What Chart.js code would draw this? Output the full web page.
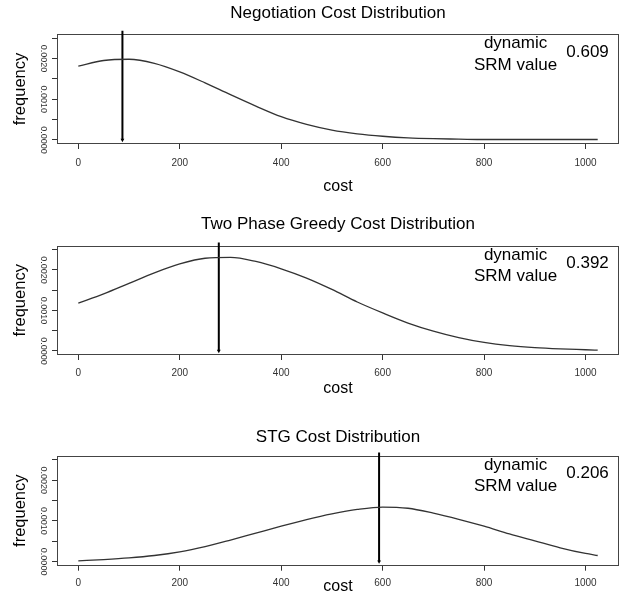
<!DOCTYPE html>
<html>
<head>
<meta charset="utf-8">
<script src="https://cdn.jsdelivr.net/npm/chart.js@4.4.1/dist/chart.umd.min.js"></script>
<style>
  html, body { margin: 0; padding: 0; background: #fff; }
  #wrap { position: relative; width: 623px; height: 598px; overflow: hidden; }
  .panel { position: absolute; left: 0; }
</style>
</head>
<body>
<div id="wrap">
  <canvas class="panel" id="panel0" width="623" height="200" style="top:0px"></canvas>
  <canvas class="panel" id="panel1" width="623" height="200" style="top:200px"></canvas>
  <canvas class="panel" id="panel2" width="623" height="198" style="top:400px"></canvas>
</div>
<script>
// ---- data ----
const costs = [0, 50, 100, 150, 200, 250, 300, 350, 400, 450, 500, 550, 600, 650, 700, 750, 800, 850, 900, 950, 1000, 1024];

const negotiationFreq = [0.00181, 0.00195, 0.00198, 0.00188, 0.00167, 0.00140, 0.00111, 0.00083, 0.00057, 0.00038, 0.00024, 0.00015, 0.00009, 0.00005, 0.00003, 0.00002, 0.00001, 0.00001, 0.00001, 0.00001, 0.00001, 0.00001];
const twoPhaseFreq = [0.00118, 0.00141, 0.00167, 0.00193, 0.00215, 0.00229, 0.00231, 0.00221, 0.00203, 0.00180, 0.00152, 0.00121, 0.00094, 0.00069, 0.00049, 0.00033, 0.00021, 0.00013, 0.00008, 0.00005, 0.00003, 0.00002];
const stgFreq = [0.00002, 0.00005, 0.00009, 0.00015, 0.00024, 0.00037, 0.00053, 0.00070, 0.00087, 0.00103, 0.00117, 0.00128, 0.00134, 0.00131, 0.00119, 0.00104, 0.00087, 0.00068, 0.00051, 0.00034, 0.00020, 0.00015];

const chartTitles = ['Negotiation Cost Distribution', 'Two Phase Greedy Cost Distribution', 'STG Cost Distribution'];
const srmValues = ['0.609', '0.392', '0.206'];
const srmCost = [87, 277, 593];   // where the arrow sits
const noteLines = ['dynamic', 'SRM value'];
const xTickValues = [0, 200, 400, 600, 800, 1000];
const yTickLabelled = [0, 0.001, 0.002];

const seriesList = [negotiationFreq, twoPhaseFreq, stgFreq];

// ---- layout per panel (pixels inside each canvas) ----
const titlePad = [{ top: 2.8, bottom: 10.8 }, { top: 13.8, bottom: 11.5 }, { top: 26.8, bottom: 8.5 }];
const xAxisHeight = [56, 45, 32.3];
const xTitlePadBottom = [3.4, 1.4, 1.4];
const xTickPad = [8, 7, 6.3];

Chart.defaults.font.family = '"Liberation Sans", Arial, sans-serif';

// frame around the plot region
const frameBox = {
  id: 'frameBox',
  beforeDatasetsDraw(chart) {
    const a = chart.chartArea;
    const ctx = chart.ctx;
    ctx.save();
    ctx.strokeStyle = '#444';
    ctx.lineWidth = 1;
    ctx.strokeRect(Math.round(a.left) + 0.5, Math.round(a.top) + 0.5, Math.round(a.width) - 1, Math.round(a.height) - 1);
    ctx.restore();
  }
};

// "dynamic / SRM value  0.xxx" note, placed through the scales
const srmNote = {
  id: 'srmNote',
  afterDraw(chart, args, opts) {
    const ctx = chart.ctx;
    const xs = chart.scales.x, ys = chart.scales.y;
    ctx.save();
    ctx.fillStyle = '#000';
    ctx.font = '17px "Liberation Sans", Arial, sans-serif';
    ctx.textAlign = 'center';
    ctx.textBaseline = 'middle';
    ctx.fillText(noteLines[0], xs.getPixelForValue(862), ys.getPixelForValue(0.00236));
    ctx.fillText(noteLines[1], xs.getPixelForValue(862), ys.getPixelForValue(0.00184));
    ctx.fillText(opts.value, xs.getPixelForValue(1004), ys.getPixelForValue(0.00216));
    ctx.restore();
  }
};

function buildChart(i) {
  const curve = costs.map((c, k) => ({ x: c, y: seriesList[i][k] }));
  const arrow = [{ x: srmCost[i], y: 0.00268 }, { x: srmCost[i], y: 0 }];

  return new Chart(document.getElementById('panel' + i), {
    type: 'line',
    data: {
      datasets: [{
        data: curve,
        borderColor: '#333',
        borderWidth: 1.3,
        pointRadius: 0,
        fill: false,
        cubicInterpolationMode: 'monotone'
      }, {
        data: arrow,
        borderColor: '#000',
        borderWidth: 2,
        pointRadius: [0, 2.2],
        pointStyle: 'triangle',
        rotation: 180,
        pointBackgroundColor: '#000',
        pointBorderColor: '#000',
        pointBorderWidth: 0,
        clip: false
      }]
    },
    options: {
      responsive: false,
      animation: false,
      events: [],
      layout: { padding: { left: 0, right: 1, top: 0, bottom: 0 } },
      plugins: {
        legend: { display: false },
        tooltip: { enabled: false },
        title: {
          display: true,
          text: chartTitles[i],
          fullSize: false,
          color: '#000',
          font: { size: 17, weight: 'normal', lineHeight: 1.2 },
          padding: titlePad[i]
        },
        srmNote: { value: srmValues[i] }
      },
      scales: {
        x: {
          type: 'linear',
          min: -42,
          max: 1066,
          afterFit(s) { s.height = xAxisHeight[i]; },
          border: { display: false },
          grid: { drawOnChartArea: false, drawTicks: true, tickLength: 5, color: '#333' },
          ticks: {
            stepSize: 200,
            includeBounds: false,
            autoSkip: false,
            maxRotation: 0,
            padding: xTickPad[i],
            color: '#333',
            font: { size: 10 },
            callback: v => (xTickValues.includes(v) ? String(v) : '')
          },
          title: {
            display: true,
            text: 'cost',
            color: '#000',
            font: { size: 16, lineHeight: 1.2 },
            padding: { top: 0, bottom: xTitlePadBottom[i] }
          }
        },
        y: {
          min: -0.0001,
          max: 0.0026,
          afterFit(s) { s.width = 57; },
          border: { display: false },
          grid: { drawOnChartArea: false, drawTicks: true, tickLength: 5, color: '#333' },
          ticks: {
            stepSize: 0.0005,
            includeBounds: false,
            autoSkip: false,
            minRotation: -90,
            crossAlign: 'center',
            padding: -5,
            color: '#333',
            font: { size: 9 },
            callback: v => {
              const hit = yTickLabelled.some(t => Math.abs(t - v) < 1e-9);
              return hit ? Math.abs(v).toFixed(4) : '';
            }
          },
          title: {
            display: true,
            text: 'frequency',
            color: '#000',
            font: { size: 16.5, lineHeight: 1.2 },
            padding: { top: 11, bottom: 0 }
          }
        }
      }
    },
    plugins: [frameBox, srmNote]
  });
}

for (let i = 0; i < 3; i++) buildChart(i);
</script>
</body>
</html>
